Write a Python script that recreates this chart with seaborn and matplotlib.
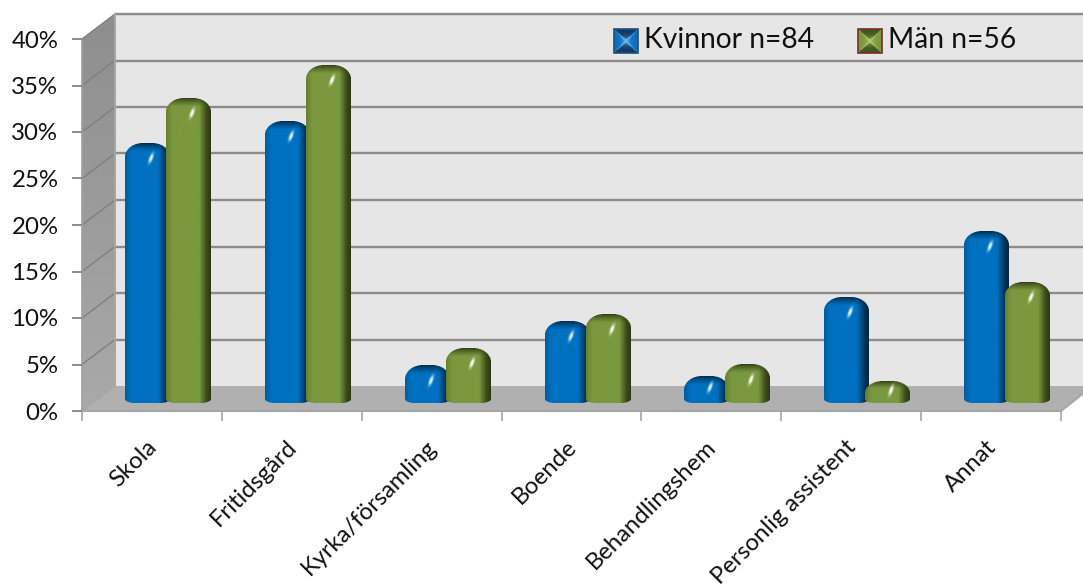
import numpy as np
import pandas as pd
import seaborn as sns
import matplotlib.pyplot as plt
from matplotlib.colors import to_rgb
from matplotlib.patches import Polygon, Rectangle
from matplotlib.ticker import FuncFormatter
from matplotlib.transforms import ScaledTranslation

# Data (percent)
categories = ['Skola', 'Fritidsgård', 'Kyrka/församling', 'Boende',
              'Behandlingshem', 'Personlig assistent', 'Annat']
kvinnor = [27.9, 30.3, 4.0, 8.8, 2.9, 11.3, 18.4]
man = [32.7, 36.3, 5.9, 9.5, 4.1, 2.3, 13.0]
group_names = ['Kvinnor n=84', 'Män n=56']
y_ticks = [0, 5, 10, 15, 20, 25, 30, 35, 40]

W, H = 1083, 587
FONT = 'Lato'
LINE = '#8c8c8c'

# Front plane of the 3D box, and depth of it, in pixels
LEFT, RIGHT, TOP, BOTTOM = 82, 1061, 39, 411
DX, DY = 33, 25

sns.set_theme(style='white')
plt.rcParams['font.family'] = [FONT, 'DejaVu Sans']

df = pd.DataFrame({
    'kategori': categories * 2,
    'grupp': [group_names[0]] * 7 + [group_names[1]] * 7,
    'andel': kvinnor + man,
})

fig = plt.figure(figsize=(W / 100, H / 100), dpi=100)


def px_axes(x0, y0, x1, y1):
    return fig.add_axes([x0 / W, 1 - y1 / H, (x1 - x0) / W, (y1 - y0) / H])


def lerp(a, b, t):
    return a + (b - a) * t[..., None]


# bar face as an RGBA image: shaded cylinder with a rounded top
def bar_image(w, h, main, left, right, cap, spot_col):
    ss = 3
    xs = (np.arange(w * ss) + .5) / ss
    ys = (np.arange(h * ss) + .5) / ss
    X, Y = np.meshgrid(xs, ys)
    u = X / w
    stops = [0, .14, .74, .9, 1]
    cols = np.array([to_rgb(left), to_rgb(main), to_rgb(main),
                     to_rgb(right), to_rgb(cap)])
    rgb = np.stack([np.interp(u, stops, cols[:, i]) for i in range(3)], axis=-1)

    rx = min(w * .4, 18)
    ry = min(h * .55, 14)
    t = np.clip(Y / (ry * .6), 0, 1) ** .7
    rgb = lerp(np.array(to_rgb(cap)), rgb, t)

    # specular spot
    sx, sy = w * .58, min(ry + 1, h * .42)
    spot = np.exp(-(((X - sx) + (Y - sy) * .35) / 1.7) ** 2 - ((Y - sy) / 4.5) ** 2)
    rgb = lerp(rgb, np.array(to_rgb(spot_col)), np.clip(spot * 1.3, 0, 1))

    mask = np.ones_like(X)
    dx = np.maximum(np.maximum(rx - X, X - (w - rx)), 0) / rx
    dy = np.maximum(ry - Y, 0) / ry
    mask[(dx ** 2 + dy ** 2) > 1] = 0
    bx, by = 10, 4.0
    dx = np.maximum(np.maximum(bx - X, X - (w - bx)), 0) / bx
    dy = np.maximum(Y - (h - by), 0) / by
    mask[(dx ** 2 + dy ** 2) > 1] = 0

    rgba = np.dstack([rgb, mask])
    rgba = rgba.reshape(h, ss, w, ss, 4).mean(axis=(1, 3))
    return rgba


def swatch_image(n, side, dark, glow):
    c = (np.arange(n) + .5) / n * 2 - 1
    X, Y = np.meshgrid(c, c)
    r = np.maximum(np.abs(X), np.abs(Y))
    img = np.zeros((n, n, 3))
    sides = np.abs(X) >= np.abs(Y)
    for i in range(3):
        img[..., i] = np.where(sides, to_rgb(side)[i], to_rgb(dark)[i])
    diag = np.exp(-((np.abs(X) - np.abs(Y)) / .1) ** 2) * (1 - r)
    return np.clip(lerp(img, np.array(to_rgb(glow)), np.clip(diag * .9 + (1 - r) ** 3, 0, 1)), 0, 1)


# ---- box: walls and floor, pixel coordinates ----
bg = fig.add_axes([0, 0, 1, 1])
bg.set_xlim(0, W)
bg.set_ylim(H, 0)
bg.axis('off')

bg.add_patch(Polygon([(LEFT + DX, TOP - DY), (W + 2, TOP - DY), (W + 2, BOTTOM - DY),
                      (LEFT + DX, BOTTOM - DY)], fc='#e6e6e6', ec='none'))
bg.add_patch(Polygon([(LEFT, BOTTOM), (LEFT + DX, BOTTOM - DY), (W + 2, BOTTOM - DY),
                      (W + 2, BOTTOM - 19), (RIGHT, BOTTOM)], fc='#b0b0b0', ec='none'))
side = Polygon([(LEFT, TOP), (LEFT + DX, TOP - DY), (LEFT + DX, BOTTOM - DY), (LEFT, BOTTOM)],
               fc='none', ec='none')
bg.add_patch(side)
grad = np.linspace(0, 1, 64)[:, None]
grad = np.dstack([np.interp(grad, [0, 1], [0x8e, 0xa9]) / 255] * 3)
im = bg.imshow(grad, extent=(LEFT, LEFT + DX, BOTTOM, TOP - DY), aspect='auto')
im.set_clip_path(side)
bg.set_xlim(0, W)
bg.set_ylim(H, 0)

# grid lines run along the side wall and the back wall
px_per_pct = (BOTTOM - TOP) / y_ticks[-1]
for v in y_ticks:
    y = BOTTOM - v * px_per_pct
    bg.plot([LEFT, LEFT + DX], [y, y - DY], color='#808080' if v else '#a6a6a6', lw=1.0)
    if v:
        bg.plot([LEFT + DX, W + 2], [y - DY, y - DY], color=LINE, lw=1.7, solid_capstyle='butt')
bg.plot([LEFT + DX, LEFT + DX], [TOP - DY, BOTTOM - DY], color='#a6a6a6', lw=1.4)
bg.plot([LEFT, LEFT], [TOP, BOTTOM], color='#a0a0a0', lw=1.2)
bg.plot([LEFT, RIGHT, W + 2], [BOTTOM, BOTTOM, BOTTOM - 19], color='#a6a6a6', lw=1.5)

# ---- axis with the tick labels, on the front plane ----
ax = px_axes(LEFT, TOP, RIGHT, BOTTOM)
ax.patch.set_alpha(0)
ax.set_xlim(-.5, 6.5)
ax.set_ylim(0, 40)
ax.set_yticks(y_ticks)
ax.yaxis.set_major_formatter(FuncFormatter(lambda v, _: f'{v:.0f}%'))
ax.set_xticks(np.arange(-.5, 7, 1))
ax.set_xticklabels([])
ax.set_xticks(range(7), categories, minor=True)
ax.tick_params(axis='y', left=True, length=7, width=1.4, color=LINE, labelsize=17.3,
               labelcolor='#111111', pad=10)
ax.tick_params(axis='x', which='major', bottom=True, length=7, width=1.2, color='#a6a6a6')
ax.tick_params(axis='x', which='minor', bottom=False, labelsize=17.2, labelcolor='#111111',
               pad=14)
nudge = ScaledTranslation(-6 / 100, 0, fig.dpi_scale_trans)
for lab in ax.get_xticklabels(minor=True):
    lab.set(rotation=45, ha='right', rotation_mode='anchor')
    lab.set_transform(lab.get_transform() + nudge)
sns.despine(ax=ax, left=True, bottom=True)
ax.set_xlabel('')
ax.set_ylabel('')

# ---- bars, standing in the middle of the box ----
bar_ax = px_axes(LEFT + 16, TOP - 8, RIGHT + 16, BOTTOM - 8)
bar_ax.patch.set_alpha(0)
sns.barplot(data=df, x='kategori', y='andel', hue='grupp', hue_order=group_names,
            palette=['#0070c0', '#7a983e'], width=.586, gap=0, legend=False, ax=bar_ax)
bar_ax.set_xlim(-.5, 6.5)
bar_ax.set_ylim(0, 40)
bar_ax.axis('off')

shades = [dict(main='#0070c0', left='#005c9e', right='#00355c', cap='#002540', spot_col='#d8f2ff'),
          dict(main='#7a983e', left='#66802f', right='#3c4c1a', cap='#2c3612', spot_col='#fbfde8')]
x_per_px = 7 / (RIGHT - LEFT)
for cont, shade in zip(bar_ax.containers, shades):
    for bar in cont:
        x0, w, h = bar.get_x(), bar.get_width(), bar.get_height()
        bar.set_visible(False)  # drawn again as shaded rounded face
        pad = 2 * x_per_px
        img = bar_image(45, int(round(h * px_per_pct)), **shade)
        bar_ax.imshow(img, extent=(x0 - pad, x0 + w + pad, 0, h), aspect='auto',
                      interpolation='bilinear', zorder=3)
bar_ax.set_xlim(-.5, 6.5)
bar_ax.set_ylim(0, 40)

# ---- legend ----
leg_x = [614, 858]
leg_cols = [dict(side='#0b6fbd', dark='#123a63', glow='#5fb4ee', edge='#1d4f80'),
            dict(side='#7a983e', dark='#43561f', glow='#a9c765', edge='#7a2b2b')]
for lx, name, c in zip(leg_x, group_names, leg_cols):
    bg.imshow(swatch_image(24, c['side'], c['dark'], c['glow']), extent=(lx, lx + 24, 53, 29),
              aspect='auto', zorder=5)
    bg.add_patch(Rectangle((lx, 29), 24, 24, fc='none', ec=c['edge'], lw=1.2, zorder=6))
    bg.text(lx + 30, 40.5, name, fontsize=20.3, va='center', ha='left', color='#111111',
            family=[FONT, 'DejaVu Sans'], zorder=6)
bg.set_xlim(0, W)
bg.set_ylim(H, 0)

fig.savefig('out.png', dpi=100)
